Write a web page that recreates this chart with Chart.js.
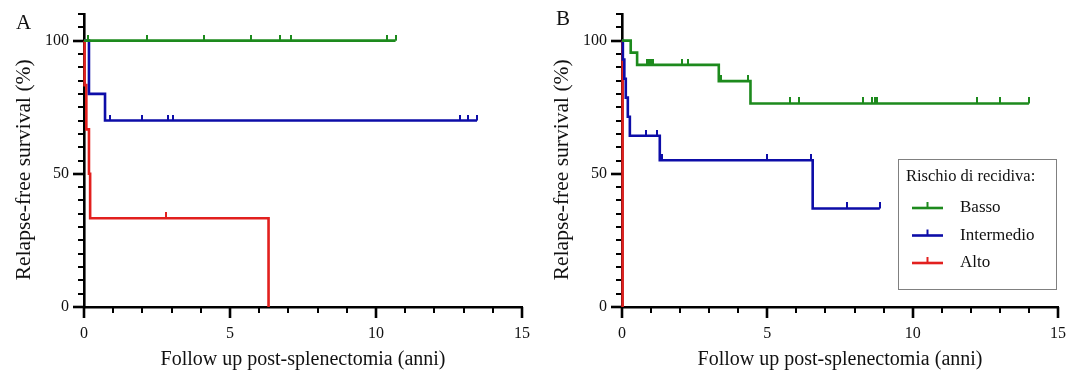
<!DOCTYPE html>
<html>
<head>
<meta charset="utf-8">
<script src="https://cdn.jsdelivr.net/npm/chart.js@4.4.1/dist/chart.umd.min.js"></script>
<style>
    html, body { margin: 0; padding: 0; background: #fff; }
    #wrap { display: flex; width: 1072px; height: 379px; }
    canvas { display: block; }
</style>
</head>
<body>
<div id="wrap">
    <canvas id="chartA" width="536" height="379"></canvas>
    <canvas id="chartB" width="536" height="379"></canvas>
</div>
<script>
/* Kaplan-Meier curves, relapse-free survival after splenectomy */
(function () {
    'use strict';

    var GROUPS   = ['Basso', 'Intermedio', 'Alto'];
    var COLORS   = ['#1d8a1d', '#0d0da8', '#e2201e'];
    var X_LABELS = [0, 5, 10, 15];
    var Y_LABELS = [0, 50, 100];
    var X_TITLE  = 'Follow up post-splenectomia (anni)';
    var Y_TITLE  = 'Relapse-free survival (%)';
    var LEGEND_TITLE = 'Rischio di recidiva:';

    // Panel A: step points (years, survival %) and censored times
    var A_BASSO_T = [0, 10.67];
    var A_BASSO_S = [100, 100];
    var A_INTER_T = [0, 0.17, 0.72, 13.46];
    var A_INTER_S = [100, 80, 70, 70];
    var A_ALTO_T  = [0, 0.02, 0.08, 0.17, 0.21, 6.32];
    var A_ALTO_S  = [100, 83.3, 66.7, 50, 33.3, 0];
    var A_BASSO_C = [0.15, 2.17, 4.11, 5.72, 6.72, 7.09, 10.38, 10.67];
    var A_INTER_C = [0.89, 1.98, 2.89, 3.05, 12.86, 13.15, 13.46];
    var A_ALTO_C  = [2.81];

    // Panel B
    var B_BASSO_T = [0, 0.30, 0.52, 3.33, 4.42, 14.0];
    var B_BASSO_S = [100, 95.5, 90.9, 84.8, 76.4, 76.4];
    var B_INTER_T = [0, 0.03, 0.08, 0.13, 0.20, 0.27, 1.30, 6.56, 8.87];
    var B_INTER_S = [100, 92.9, 85.7, 78.6, 71.4, 64.3, 55.1, 37, 37];
    var B_ALTO_T  = [0, 0.02];
    var B_ALTO_S  = [100, 0];
    var B_BASSO_C = [0.87, 0.93, 0.99, 1.05, 2.06, 2.26, 3.40, 4.35, 5.77, 6.08,
                     8.30, 8.61, 8.70, 8.79, 12.23, 13.0, 14.0];
    var B_INTER_C = [0.84, 1.22, 1.37, 5.0, 6.50, 7.73, 8.87];
    var B_ALTO_C  = [];

    var FONT = '"Liberation Serif", "Times New Roman", serif';
    var INK  = '#111';

    function steps(T, S) {
        return T.map(function (t, i) { return { x: t, y: S[i] }; });
    }

    function censored(T, S, C) {
        return C.map(function (c) {
            var s = S[0];
            for (var i = 0; i < T.length; i++) { if (T[i] <= c) s = S[i]; }
            return { x: c, y: s };
        });
    }

    // small upward tick used as the censor mark
    function tickImage(color) {
        var c = document.createElement('canvas');
        c.width = 2; c.height = 12;
        var g = c.getContext('2d');
        g.fillStyle = color;
        g.fillRect(0, 0, 2, 6);
        return c;
    }

    function buildDatasets(series) {
        var marks = series.map(function (s, i) {
            return {
                type: 'scatter',
                label: '',
                data: censored(s.T, s.S, s.C),
                pointStyle: tickImage(COLORS[i]),
                pointRadius: 3,
                showLine: false,
                clip: false
            };
        });
        var lines = series.map(function (s, i) {
            return {
                type: 'line',
                label: GROUPS[i],
                data: steps(s.T, s.S),
                stepped: 'before',   // horizontal first, then the drop
                borderColor: COLORS[i],
                borderWidth: 2.6,
                pointRadius: 0,
                fill: false,
                clip: false
            };
        });
        return marks.concat(lines);
    }

    var axisDecor = {
        id: 'axisDecor',
        beforeDatasetsDraw: function (chart) {
            var ctx = chart.ctx, area = chart.chartArea;
            var xs = chart.scales.x, ys = chart.scales.y;
            ctx.save();
            ctx.strokeStyle = '#000';
            xs.ticks.forEach(function (t) {
                var major = X_LABELS.indexOf(t.value) >= 0;
                var px = Math.round(xs.getPixelForValue(t.value));
                ctx.lineWidth = major ? 2.6 : 2;
                ctx.beginPath();
                ctx.moveTo(px, area.bottom);
                ctx.lineTo(px, area.bottom + (major ? 11 : 6));
                ctx.stroke();
            });
            ys.ticks.forEach(function (t) {
                var major = Y_LABELS.indexOf(t.value) >= 0;
                var py = Math.round(ys.getPixelForValue(t.value));
                ctx.lineWidth = major ? 2.6 : 2;
                ctx.beginPath();
                ctx.moveTo(area.left, py);
                ctx.lineTo(area.left - (major ? 11 : 6), py);
                ctx.stroke();
            });
            ctx.restore();
        },
        afterDraw: function (chart, args, opts) {
            var ctx = chart.ctx, ys = chart.scales.y;
            ctx.save();
            ctx.fillStyle = INK;
            ctx.font = '21px ' + FONT;
            ctx.textAlign = 'left';
            ctx.textBaseline = 'alphabetic';
            ctx.fillText(opts.letter, opts.letterX, opts.letterY);

            ctx.translate(opts.titleX, ys.getPixelForValue(51.5));
            ctx.rotate(-Math.PI / 2);
            ctx.font = '21.5px ' + FONT;
            ctx.textAlign = 'center';
            ctx.textBaseline = 'middle';
            ctx.fillText(Y_TITLE, 0, 0);
            ctx.restore();
        }
    };

    var legendBox = {
        id: 'legendBox',
        afterDraw: function (chart, args, opts) {
            var ctx = chart.ctx;
            var bx = opts.x, by = opts.y, bw = opts.w, bh = opts.h;
            ctx.save();
            ctx.fillStyle = '#fff';
            ctx.fillRect(bx, by, bw, bh);
            ctx.strokeStyle = '#808080';
            ctx.lineWidth = 1;
            ctx.strokeRect(bx + 0.5, by + 0.5, bw, bh);

            ctx.fillStyle = INK;
            ctx.font = '16.5px ' + FONT;
            ctx.textBaseline = 'middle';
            ctx.fillText(LEGEND_TITLE, bx + 8, by + 18);

            GROUPS.forEach(function (g, i) {
                var yy = by + 49 + i * 27.5;
                ctx.strokeStyle = COLORS[i];
                ctx.lineWidth = 2.6;
                ctx.beginPath();
                ctx.moveTo(bx + 14, yy);
                ctx.lineTo(bx + 45, yy);
                ctx.stroke();
                ctx.lineWidth = 2;
                ctx.beginPath();
                ctx.moveTo(bx + 29.5, yy);
                ctx.lineTo(bx + 29.5, yy - 6);
                ctx.stroke();
                ctx.fillStyle = INK;
                ctx.font = '17px ' + FONT;
                ctx.fillText(g, bx + 62, yy);
            });
            ctx.restore();
        }
    };

    function makeOptions(areaLeft, areaRight, decor, legend) {
        var tickFont = { family: FONT, size: 16 };
        return {
            responsive: false,
            animation: false,
            devicePixelRatio: 1,
            events: [],
            layout: { padding: { left: 0, right: 536 - areaRight, top: 14, bottom: 0 } },
            plugins: {
                legend: { display: false },
                tooltip: { enabled: false },
                axisDecor: decor,
                legendBox: legend || false
            },
            scales: {
                x: {
                    type: 'linear',
                    min: 0,
                    max: 15,
                    afterFit: function (s) { s.height = 72; },
                    ticks: {
                        stepSize: 1,
                        autoSkip: false,
                        maxRotation: 0,
                        padding: 6,
                        color: INK,
                        font: tickFont,
                        callback: function (v) { return X_LABELS.indexOf(v) >= 0 ? String(v) : ''; }
                    },
                    grid: { display: true, drawOnChartArea: false, drawTicks: true, tickLength: 11, tickColor: 'rgba(0,0,0,0)' },
                    border: { display: true, color: '#000', width: 2.6 },
                    title: {
                        display: true,
                        text: X_TITLE,
                        color: INK,
                        font: { family: FONT, size: 20 },
                        padding: { top: 0, bottom: 7 }
                    }
                },
                y: {
                    type: 'linear',
                    min: 0,
                    max: 110,
                    afterFit: function (s) { s.width = areaLeft; },
                    ticks: {
                        stepSize: 5,
                        autoSkip: false,
                        padding: 4,
                        color: INK,
                        font: tickFont,
                        callback: function (v) { return Y_LABELS.indexOf(v) >= 0 ? String(v) : ''; }
                    },
                    grid: { display: true, drawOnChartArea: false, drawTicks: true, tickLength: 11, tickColor: 'rgba(0,0,0,0)' },
                    border: { display: true, color: '#000', width: 2.6 }
                }
            }
        };
    }

    new Chart(document.getElementById('chartA'), {
        data: {
            datasets: buildDatasets([
                { T: A_BASSO_T, S: A_BASSO_S, C: A_BASSO_C },
                { T: A_INTER_T, S: A_INTER_S, C: A_INTER_C },
                { T: A_ALTO_T,  S: A_ALTO_S,  C: A_ALTO_C }
            ])
        },
        options: makeOptions(84, 524, { letter: 'A', letterX: 16, letterY: 29, titleX: 24 }),
        plugins: [axisDecor, legendBox]
    });

    new Chart(document.getElementById('chartB'), {
        data: {
            datasets: buildDatasets([
                { T: B_BASSO_T, S: B_BASSO_S, C: B_BASSO_C },
                { T: B_INTER_T, S: B_INTER_S, C: B_INTER_C },
                { T: B_ALTO_T,  S: B_ALTO_S,  C: B_ALTO_C }
            ])
        },
        options: makeOptions(86, 525,
            { letter: 'B', letterX: 20, letterY: 25, titleX: 26 },
            { x: 362, y: 159, w: 158, h: 130 }),
        plugins: [axisDecor, legendBox]
    });
}());
</script>
</body>
</html>
